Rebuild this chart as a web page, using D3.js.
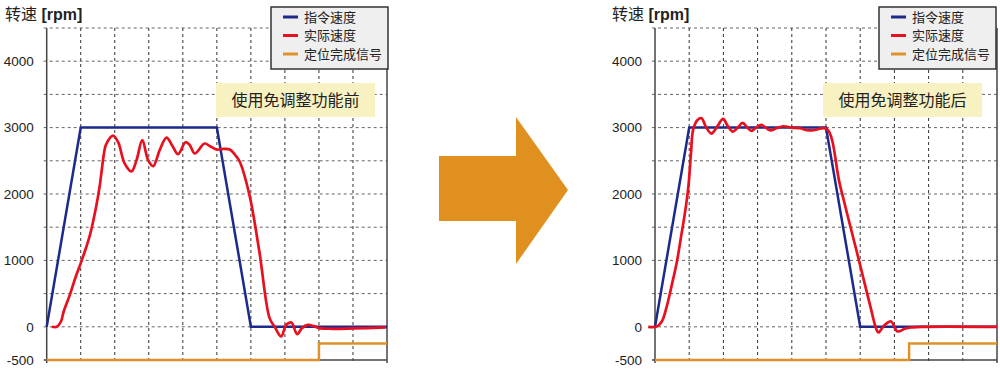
<!DOCTYPE html>
<html>
<head>
<meta charset="utf-8">
<script src="https://cdn.jsdelivr.net/npm/d3@7"></script>
<style>
  body { margin: 0; background: #fff; }
  text { font-family: "Liberation Sans", "Noto Sans CJK SC", sans-serif; }
</style>
</head>
<body>
<script>
// y axis
const yTicks = [4000, 3000, 2000, 1000, 0, -500];
const yGrid = [-500, 0, 500, 1000, 1500, 2000, 2500, 3000, 3500, 4000, 4500];
const xGrid = [0, 1, 2, 3, 4, 5, 6, 7, 8, 9, 10];

const legendNames = ['指令速度', '实际速度', '定位完成信号'];
const notes = ['使用免调整功能前', '使用免调整功能后'];

// command speed (same for both)
const commandSpeed = [[0, 0], [1, 3000], [5, 3000], [6, 0], [10, 0]];

// actual speed, before auto-tuning
const actualBefore = [[0.15,0],[0.3,0],[0.42,80],[0.5,230],[0.68,480],[0.85,750],[1.03,1000],[1.27,1380],[1.45,1800],
  [1.56,2130],[1.68,2600],[1.74,2740],[1.95,2880],[2.1,2780],[2.29,2460],[2.49,2340],[2.64,2510],[2.81,2810],
  [2.98,2510],[3.13,2420],[3.32,2660],[3.52,2850],[3.7,2720],[3.86,2600],[4.08,2780],[4.2,2740],[4.35,2610],
  [4.64,2760],[4.8,2720],[4.99,2670],[5.2,2680],[5.38,2670],[5.55,2580],[5.67,2490],[5.96,1980],[6.25,1130],
  [6.55,130],[6.7,0],[6.89,-145],[7.04,30],[7.19,65],[7.36,-110],[7.5,-20],[7.67,30],[7.85,10],[8.01,-20],
  [8.4,-30],[9.0,-25],[9.97,-10]];

// actual speed, after auto-tuning
const actualAfter = [[-0.2,0],[0.05,5],[0.2,80],[0.34,300],[0.5,650],[0.64,980],[0.76,1350],[0.88,1730],[0.98,2130],
  [1.05,2600],[1.12,2980],[1.25,3120],[1.36,3140],[1.5,3000],[1.65,2910],[1.8,3000],[1.99,3130],[2.12,3030],
  [2.27,2940],[2.42,3000],[2.56,3070],[2.7,3000],[2.82,2950],[2.96,3000],[3.11,3040],[3.36,2960],[3.55,2990],
  [3.75,3020],[4.0,3000],[4.24,2990],[4.45,2960],[4.63,2960],[5.02,2980],[5.41,2130],[5.9,1130],[6.3,300],
  [6.45,0],[6.53,-85],[6.7,20],[6.9,80],[7.09,-70],[7.3,-30],[7.48,-10],[7.77,0],[10,0]];

// positioning complete signal
const inposBefore = [[0,-500],[8,-500],[8,-250],[10,-250]];
const inposAfter = [[0,-500],[7.43,-500],[7.43,-250],[10,-250]];

const colors = ['#1c2a8c', '#e8101e', '#e0922a'];

let svg = d3.select('body').append('svg')
  .attr('width', 1000)
  .attr('height', 370);

let y = d3.scaleLinear().domain([-500, 4500]).range([360, 28]);

let drawChart = (x0, x1, titleX, actual, inpos, note, noteBox, legendBox) => {
  let x = d3.scaleLinear().domain([0, 10]).range([x0, x1]);
  let g = svg.append('g');

  // horizontal grid
  g.selectAll('.hg').data(yGrid.filter(d => d > -500)).enter().append('line')
    .attr('x1', x0 - 3).attr('x2', x1)
    .attr('y1', d => y(d)).attr('y2', d => y(d))
    .attr('stroke', '#666').attr('stroke-width', 1)
    .attr('stroke-dasharray', '3,3');
  // vertical grid
  g.selectAll('.vg').data(xGrid.slice(1, -1)).enter().append('line')
    .attr('x1', d => x(d)).attr('x2', d => x(d))
    .attr('y1', y(4500)).attr('y2', y(-500) + 3)
    .attr('stroke', '#333').attr('stroke-width', 1)
    .attr('stroke-dasharray', '3,3');

  // frame: left, right, bottom solid
  g.append('line').attr('x1', x0).attr('x2', x0).attr('y1', y(4500)).attr('y2', y(-500) + 3)
    .attr('stroke', '#444').attr('stroke-width', 1.5);
  g.append('line').attr('x1', x1).attr('x2', x1).attr('y1', y(4500)).attr('y2', y(-500) + 3)
    .attr('stroke', '#444').attr('stroke-width', 1.5);
  g.append('line').attr('x1', x0 - 3).attr('x2', x1).attr('y1', y(-500)).attr('y2', y(-500))
    .attr('stroke', '#444').attr('stroke-width', 1.5);

  // y tick labels
  g.selectAll('.yl').data(yTicks).enter().append('text')
    .attr('x', x0 - 13).attr('y', d => y(d))
    .attr('dy', '0.35em')
    .attr('text-anchor', 'end')
    .attr('font-size', 13.5).attr('fill', '#222')
    .text(d => d);

  // title
  let t = g.append('text').attr('x', titleX).attr('y', 20).attr('font-size', 16).attr('fill', '#222');
  t.append('tspan').text('转速 ');
  t.append('tspan').attr('font-weight', 'bold').text('[rpm]');

  let line = d3.line().x(d => x(d[0])).y(d => y(d[1]));
  let smooth = d3.line().x(d => x(d[0])).y(d => y(d[1])).curve(d3.curveCatmullRom.alpha(0.5));

  g.append('path').datum(inpos).attr('d', line)
    .attr('fill', 'none').attr('stroke', colors[2]).attr('stroke-width', 2.5);
  g.append('path').datum(commandSpeed).attr('d', line)
    .attr('fill', 'none').attr('stroke', colors[0]).attr('stroke-width', 2.5);
  g.append('path').datum(actual).attr('d', smooth)
    .attr('fill', 'none').attr('stroke', colors[1]).attr('stroke-width', 2.7)
    .attr('stroke-linejoin', 'round');

  // note box
  g.append('rect')
    .attr('x', noteBox[0]).attr('y', 83)
    .attr('width', noteBox[1]).attr('height', 34)
    .attr('fill', '#f8f1c2');
  g.append('text')
    .attr('x', noteBox[0] + noteBox[1] / 2).attr('y', 100)
    .attr('dy', '0.35em').attr('text-anchor', 'middle')
    .attr('font-size', 16).attr('fill', '#222')
    .text(note);

  // legend
  let lg = g.append('g').attr('transform', 'translate(' + legendBox + ',7)');
  lg.append('rect').attr('width', 117).attr('height', 62)
    .attr('fill', '#efefef').attr('stroke', '#333').attr('stroke-width', 1.5);
  legendNames.forEach((name, i) => {
    lg.append('line').attr('x1', 12).attr('x2', 27)
      .attr('y1', 10 + i * 18.5).attr('y2', 10 + i * 18.5)
      .attr('stroke', colors[i]).attr('stroke-width', 3);
    lg.append('text').attr('x', 33).attr('y', 10 + i * 18.5)
      .attr('dy', '0.35em').attr('font-size', 13).attr('fill', '#222')
      .text(name);
  });
};

drawChart(46.7, 387, 5, actualBefore, inposBefore, notes[0], [216, 159], 271);
drawChart(655, 997, 612, actualAfter, inposAfter, notes[1], [823, 159], 879);

// arrow between charts
svg.append('path')
  .attr('d', 'M439,156 L516,156 L516,117 L568,190 L516,264 L516,221 L439,221 Z')
  .attr('fill', '#e0901f');
</script>
</body>
</html>
